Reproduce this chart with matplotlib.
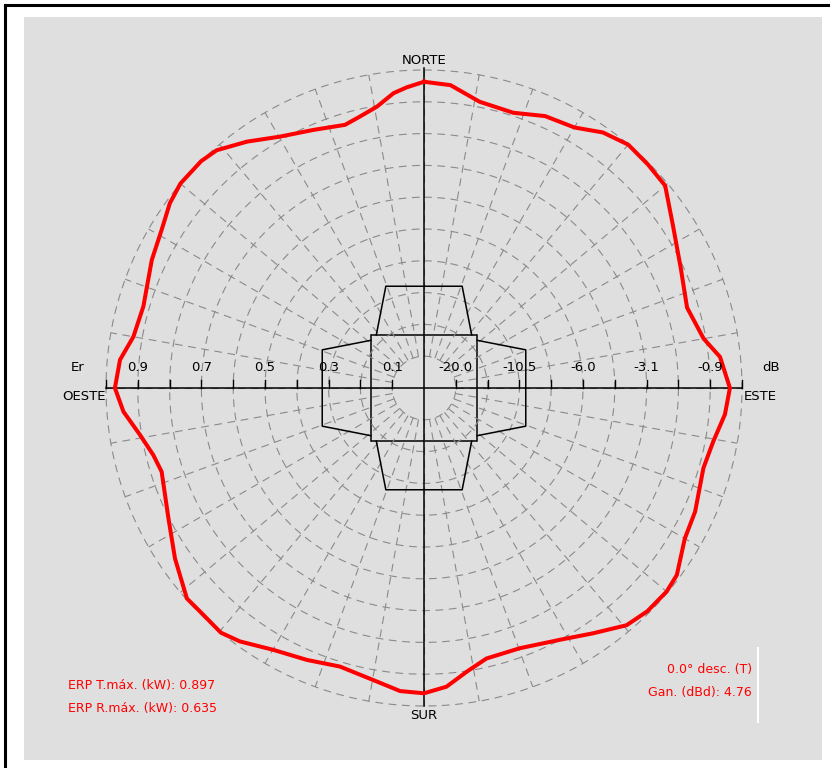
#!/usr/bin/env python
#coding=utf-8

import numpy as np
import matplotlib
matplotlib.use("Agg")
import matplotlib.pyplot as plt
from matplotlib.lines import Line2D
from matplotlib.patches import Rectangle

# diagrama horizontal: rumbo en grados (desde el norte, sentido horario) y campo relativo Er
rumbo = [0, 5, 11, 18, 24, 30, 35, 40, 45, 50, 57, 65, 73, 80, 84,
         90, 95, 100.5, 106, 114.5, 120, 126.5, 130, 135, 139.5, 145.4, 151.6, 159.8, 167, 171.4, 175.7,
         180, 184.5, 189.9, 196.8, 203.3, 209.9, 216, 219.7, 225, 228.4, 235.6, 243, 252.3, 256.1, 260.6, 265.5,
         270, 275.3, 280, 286.2, 295.2, 301, 306, 310, 315.5, 318.9, 324.3, 330.2, 336.8, 343.3, 346.7,
         350.5, 354.1, 356.7, 360]
er = [0.963, 0.956, 0.917, 0.910, 0.936, 0.946, 0.981, 0.999, 0.995, 0.990, 0.934, 0.891, 0.865, 0.893, 0.936,
      0.962, 0.950, 0.925, 0.914, 0.937, 0.947, 0.989, 0.996, 0.993, 0.981, 0.937, 0.900, 0.872, 0.873, 0.902, 0.942,
      0.960, 0.956, 0.932, 0.915, 0.931, 0.950, 0.985, 1.000, 0.995, 0.997, 0.949, 0.902, 0.866, 0.877, 0.905, 0.948,
      0.972, 0.960, 0.928, 0.919, 0.946, 0.963, 0.988, 1.000, 1.000, 0.992, 0.954, 0.911, 0.883, 0.864, 0.877,
      0.897, 0.932, 0.947, 0.963]

# escala del eje horizontal
pos_etiquetas = [0.1, 0.3, 0.5, 0.7, 0.9]
etiquetas_er = ['0.1', '0.3', '0.5', '0.7', '0.9']
etiquetas_db = ['-20.0', '-10.5', '-6.0', '-3.1', '-0.9']

# contorno de la torre (en unidades de Er): cuadrado central y un trapecio por cara
lado_torre = 0.167
trapecio_u = [-0.15, -0.12, 0.12, 0.15]     # coordenada a lo largo de la cara
trapecio_v = [0.167, 0.32, 0.32, 0.167]     # distancia al centro

textos_izq = ['ERP T.máx. (kW): 0.897', 'ERP R.máx. (kW): 0.635']
textos_der = ['0.0° desc. (T)', 'Gan. (dBd): 4.76']

W, H = 831, 768
cx, cy, R = 424, 388, 318

fig = plt.figure(figsize=(W / 100.0, H / 100.0), dpi=100)
fig.patch.set_facecolor('white')

# panel gris y marco
fig.add_artist(Rectangle((24.0 / W, 1 - 760.0 / H), 798.0 / W, 743.0 / H,
                         transform=fig.transFigure, facecolor='#dfdfdf', edgecolor='none', zorder=-5))
fig.add_artist(Line2D([5.0 / W, 828.0 / W], [1 - 5.0 / H, 1 - 5.0 / H], transform=fig.transFigure,
                      color='black', lw=2.2))
fig.add_artist(Line2D([5.0 / W, 5.0 / W], [1 - 5.0 / H, 0], transform=fig.transFigure,
                      color='black', lw=2.2))

ax = fig.add_axes([0, 0, 1, 1])
ax.set_xlim(-cx / float(R), (W - cx) / float(R))
ax.set_ylim(-(H - cy) / float(R), cy / float(R))
ax.axis('off')
ax.patch.set_alpha(0)

gris = '#8a8a8a'
t = np.linspace(0, 2 * np.pi, 721)
for r in np.arange(1, 11) / 10.0:
    ax.plot(r * np.sin(t), r * np.cos(t), color=gris, lw=0.8, dashes=(7, 5))
for a in np.radians(np.arange(0, 360, 10)):
    ax.plot([0.1 * np.sin(a), np.sin(a)], [0.1 * np.cos(a), np.cos(a)], color=gris, lw=0.8, dashes=(7, 5))

# ejes
ax.plot([-1, 1], [0, 0], color='black', lw=1.1)
ax.plot([0, 0], [-1.0, 1.005], color='black', lw=1.1)
for r in np.arange(1, 11) / 10.0:
    ax.plot([r, r], [0, 0.026], color='black', lw=1.0)
    ax.plot([-r, -r], [0, 0.026], color='black', lw=1.0)

# torre
ax.add_patch(Rectangle((-lado_torre, -lado_torre), 2 * lado_torre, 2 * lado_torre,
                       fill=False, edgecolor='black', lw=1.1))
u = np.array(trapecio_u)
v = np.array(trapecio_v)
for xs, ys in [(u, v), (u, -v), (v, u), (-v, u)]:
    ax.plot(xs, ys, color='black', lw=1.1)

fs = 9.5
for p, le, ld in zip(pos_etiquetas, etiquetas_er, etiquetas_db):
    ax.text(-p, 0.066, le, ha='center', va='center', fontsize=fs)
    ax.text(p, 0.066, ld, ha='center', va='center', fontsize=fs)
ax.text(-1.088, 0.066, 'Er', ha='center', va='center', fontsize=fs)
ax.text(1.09, 0.066, 'dB', ha='center', va='center', fontsize=fs)
ax.text(-1.0, -0.027, 'OESTE', ha='right', va='center', fontsize=fs)
ax.text(1.005, -0.027, 'ESTE', ha='left', va='center', fontsize=fs)
ax.text(0, 1.008, 'NORTE', ha='center', va='bottom', fontsize=fs)
ax.text(0, -1.008, 'SUR', ha='center', va='top', fontsize=fs)

# diagrama
th = np.radians(rumbo)
ax.plot(np.array(er) * np.sin(th), np.array(er) * np.cos(th), color='#ff0000', lw=2.9,
        solid_joinstyle='round')

for i, s in enumerate(textos_izq):
    ax.text(-1.12, -0.934 - 0.075 * i, s, color='#ff0000', ha='left', va='center', fontsize=9)
for i, s in enumerate(textos_der):
    ax.text(1.031, -0.884 - 0.075 * i, s, color='#ff0000', ha='right', va='center', fontsize=9)
ax.plot([1.049, 1.049], [-0.818, -1.05], color='white', lw=1.5)

plt.savefig('out.png', dpi=100, facecolor=fig.get_facecolor())
